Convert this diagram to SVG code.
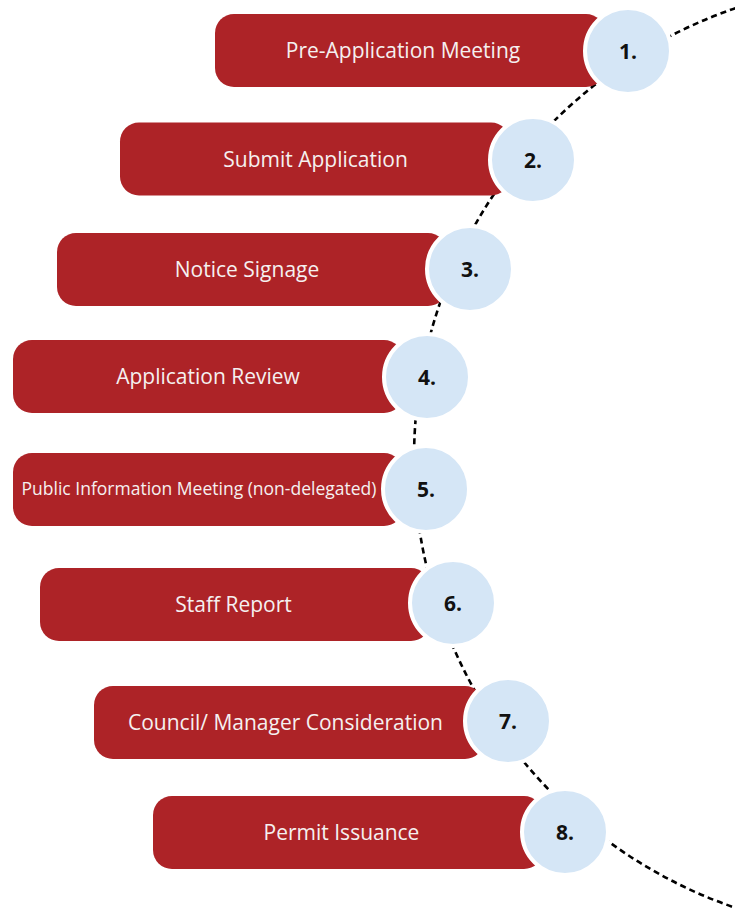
<svg xmlns="http://www.w3.org/2000/svg" width="735" height="910" viewBox="0 0 735 910">
<style>
.box{fill:#AD2327}
.lbl{font-family:"Open Sans","Liberation Sans",sans-serif;font-size:21px;fill:#F5F0F0;text-anchor:middle}
.sm{font-size:17.5px}
.dot{fill:#D5E6F6;stroke:#FFFFFF;stroke-width:4}
.num{font-family:"Open Sans","Liberation Sans",sans-serif;font-size:21px;font-weight:bold;fill:#111111;text-anchor:middle}
.arc{fill:none;stroke:#000000;stroke-width:2.6;stroke-dasharray:6 4}
</style>
<rect width="735" height="910" fill="#FFFFFF"/>
<g id="connectors">
<path class="arc" d="M 745 5 A 475.5 475.5 0 0 0 745 911"/>
</g>
<g id="node1"><rect class="box" x="215" y="14" width="390" height="73" rx="19"/><text class="lbl" x="403" y="58">Pre-Application Meeting</text><circle class="dot" cx="628" cy="51" r="43"/><text class="num" x="628" y="58.5">1.</text></g>
<g id="node2"><rect class="box" x="120" y="122.5" width="390" height="73" rx="19"/><text class="lbl" x="315.5" y="166.5">Submit Application</text><circle class="dot" cx="533" cy="160" r="43"/><text class="num" x="533" y="167.5">2.</text></g>
<g id="node3"><rect class="box" x="57" y="233" width="390" height="73" rx="19"/><text class="lbl" x="247" y="277">Notice Signage</text><circle class="dot" cx="470" cy="269" r="43"/><text class="num" x="470" y="276.5">3.</text></g>
<g id="node4"><rect class="box" x="13" y="340" width="390" height="73" rx="19"/><text class="lbl" x="208" y="384">Application Review</text><circle class="dot" cx="427" cy="377" r="43"/><text class="num" x="427" y="384.5">4.</text></g>
<g id="node5"><rect class="box" x="13" y="453" width="390" height="73" rx="19"/><text class="lbl sm" x="199" y="495">Public Information Meeting (non-delegated)</text><circle class="dot" cx="426" cy="489" r="43"/><text class="num" x="426" y="496.5">5.</text></g>
<g id="node6"><rect class="box" x="40" y="568" width="390" height="73" rx="19"/><text class="lbl" x="233.5" y="612">Staff Report</text><circle class="dot" cx="453" cy="603" r="43"/><text class="num" x="453" y="610.5">6.</text></g>
<g id="node7"><rect class="box" x="94" y="686" width="390" height="73" rx="19"/><text class="lbl" x="285.5" y="730">Council/ Manager Consideration</text><circle class="dot" cx="508" cy="721" r="43"/><text class="num" x="508" y="728.5">7.</text></g>
<g id="node8"><rect class="box" x="153" y="796" width="390" height="73" rx="19"/><text class="lbl" x="341.5" y="840">Permit Issuance</text><circle class="dot" cx="565" cy="832" r="43"/><text class="num" x="565" y="839.5">8.</text></g>
</svg>
